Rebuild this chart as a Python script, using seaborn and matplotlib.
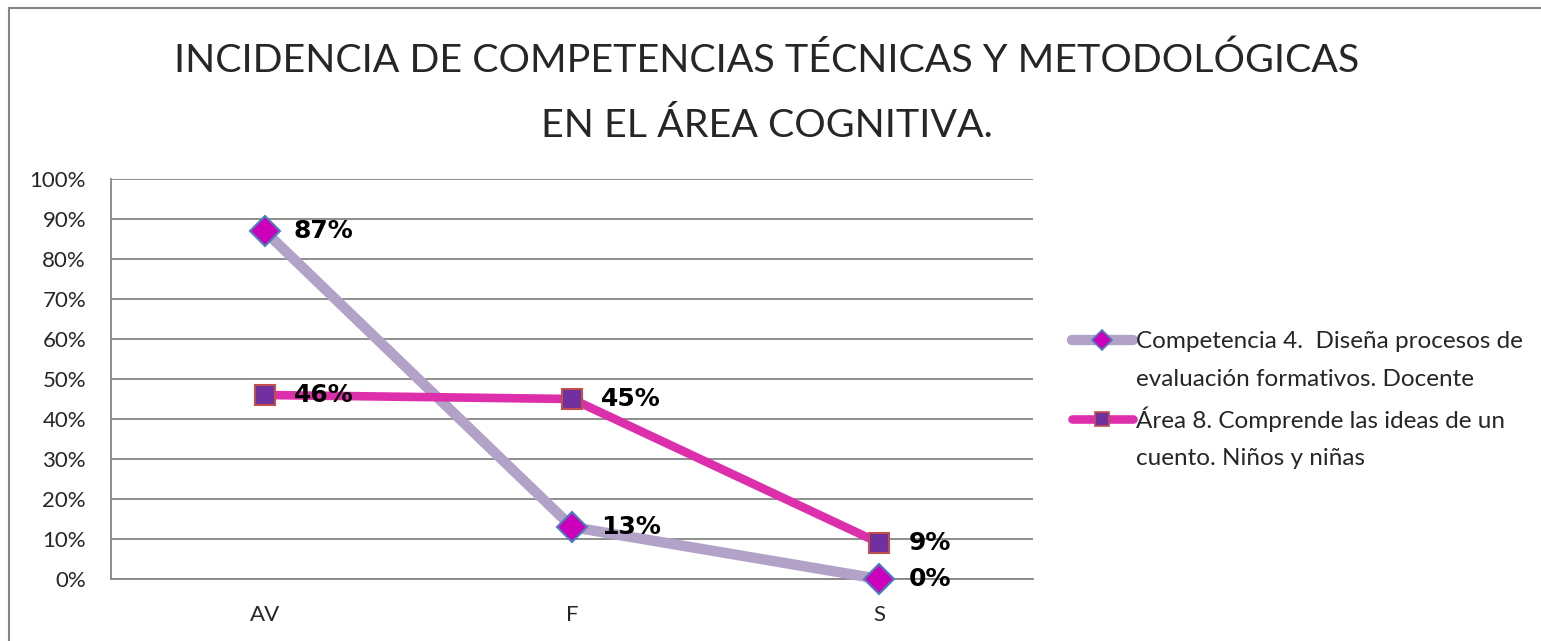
import matplotlib.pyplot as plt
import pandas as pd
import seaborn as sns
from matplotlib.lines import Line2D
from matplotlib.patches import Rectangle

categories = ["AV", "F", "S"]
competencia = [0.87, 0.13, 0.00]
area = [0.46, 0.45, 0.09]
series_names = ["Competencia 4.  Diseña procesos de\nevaluación formativos. Docente",
                "Área 8. Comprende las ideas de un\ncuento. Niños y niñas"]
yticks = [i / 10 for i in range(11)]
ytick_labels = [f"{i * 10}%" for i in range(11)]

W, H = 1541, 641

sns.set_theme(style="white")
plt.rcParams["font.family"] = ["Lato", "DejaVu Sans"]

fig = plt.figure(figsize=(W / 100, H / 100), dpi=100)
ax = fig.add_axes([111 / W, (H - 579) / H, (1033 - 111) / W, (579 - 179) / H])

df = pd.DataFrame({"cat": categories * 2,
                   "val": competencia + area,
                   "serie": [series_names[0]] * 3 + [series_names[1]] * 3})

styles = [
    dict(color="#B3A2C7", lw=7.5, marker="D", ms=15, mfc="#CC00BB", mec="#4A7EBB", mew=1.5),
    dict(color="#DD2EAB", lw=6.2, marker="s", ms=15, mfc="#7030A0", mec="#C0504D", mew=1.5),
]
handles, labels = [], []
for name, st in zip(series_names, styles):
    sub = df[df["serie"] == name]
    sns.lineplot(data=sub, x="cat", y="val", ax=ax, legend=False,
                 color=st["color"], linewidth=st["lw"], marker=st["marker"],
                 markersize=st["ms"], markerfacecolor=st["mfc"],
                 markeredgecolor=st["mec"], markeredgewidth=st["mew"],
                 solid_capstyle="round", zorder=3, clip_on=False)
    for i, v in enumerate(sub["val"]):
        ax.annotate(f"{round(v * 100)}%", (i, v), xytext=(21, 0),
                    textcoords="offset points", ha="left", va="center",
                    fontsize=18, fontweight="bold", color="black",
                    family=["DejaVu Sans"], zorder=4)
    # legend: handle next to the first line of each wrapped label
    first, second = name.split("\n")
    handles.append(Line2D([], [], color=st["color"], lw=st["lw"], marker=st["marker"],
                          ms=10, mfc=st["mfc"], mec=st["mec"], mew=1.2,
                          solid_capstyle="round"))
    labels.append(first)
    handles.append(Line2D([], [], color="none"))
    labels.append(second)

ax.set_xlim(-0.5, 2.5)
ax.set_ylim(0, 1)
ax.set_yticks(yticks)
ax.set_yticklabels(ytick_labels, fontsize=16)
ax.tick_params(axis="y", length=0, pad=18)
ax.tick_params(axis="x", length=0, labelsize=16, pad=19)
ax.set_xlabel("")
ax.set_ylabel("")
ax.grid(axis="y", color="#868686", linewidth=1.3)
ax.set_axisbelow(True)
for side in ["top", "right"]:
    ax.spines[side].set_visible(False)
for side in ["left", "bottom"]:
    ax.spines[side].set_color("#868686")
    ax.spines[side].set_linewidth(1.3)

ax.legend(handles, labels, loc="upper left", bbox_to_anchor=(1072 / W, 1 - 331 / H),
          bbox_transform=fig.transFigure, frameon=False, fontsize=17.5,
          handlelength=2.5, handletextpad=0.12, labelspacing=0.68,
          borderaxespad=0, borderpad=0)

fig.text(767 / W, 1 - 61 / H, "INCIDENCIA DE COMPETENCIAS TÉCNICAS Y METODOLÓGICAS",
         ha="center", va="center", fontsize=28.4)
fig.text(767 / W, 1 - 126 / H, "EN EL ÁREA COGNITIVA.",
         ha="center", va="center", fontsize=28.4)

fig.patches.append(Rectangle((9 / W, -0.1), 1.2, 1 - 8 / H + 0.1,
                             transform=fig.transFigure, fill=False,
                             edgecolor="#868686", linewidth=1.5))

fig.savefig("out.png", dpi=100)
